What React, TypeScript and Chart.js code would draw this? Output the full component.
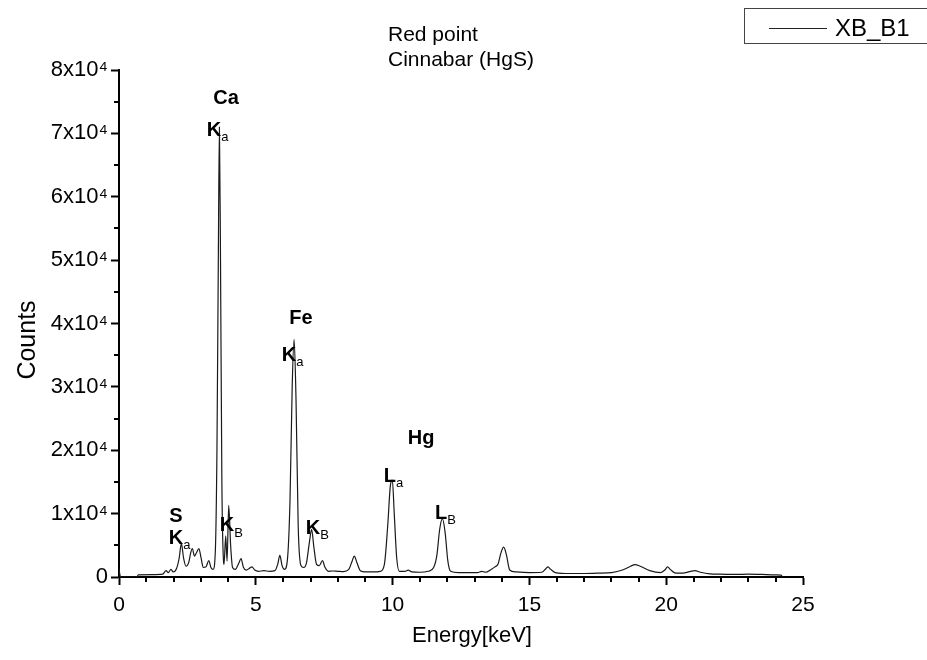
import React, { useEffect, useRef } from "react";
import { Chart, registerables } from "chart.js";

Chart.register(...registerables);

// XRF spectrum of sample XB_B1 (energy in keV, counts)
const energy = [
  0.0, 0.04, 0.1, 0.66, 0.7, 1.2, 1.6, 1.72, 1.8, 1.9, 1.98, 2.1, 2.2, 2.28, 2.36, 2.45, 2.55, 2.62,
  2.68, 2.76, 2.84, 2.92, 3.0, 3.08, 3.18, 3.28, 3.36, 3.44, 3.52, 3.58, 3.63, 3.67, 3.71, 3.76, 3.82,
  3.84, 3.9, 3.95, 4.01, 4.08, 4.15, 4.25, 4.38, 4.46, 4.55, 4.65, 4.78, 4.86, 4.96, 5.1, 5.3, 5.5, 5.7,
  5.8, 5.88, 5.96, 6.05, 6.15, 6.25, 6.33, 6.4, 6.47, 6.55, 6.65, 6.75, 6.85, 6.96, 7.04, 7.12, 7.22,
  7.32, 7.44, 7.52, 7.65, 7.8, 8.0, 8.2, 8.4, 8.52, 8.6, 8.7, 8.82, 9.0, 9.3, 9.55, 9.7, 9.82, 9.92,
  9.99, 10.06, 10.15, 10.25, 10.45, 10.57, 10.7, 11.0, 11.3, 11.5, 11.62, 11.72, 11.82, 11.92, 12.02,
  12.12, 12.4, 12.8, 13.1, 13.26, 13.4, 13.6, 13.74, 13.85, 13.96, 14.06, 14.16, 14.28, 14.5, 15.0,
  15.45, 15.6, 15.68, 15.78, 15.95, 16.5, 17.0, 17.5, 18.0, 18.4, 18.7, 18.86, 19.05, 19.4, 19.8,
  19.95, 20.05, 20.15, 20.35, 20.6, 20.9, 21.05, 21.25, 21.6, 22.0, 22.5, 23.0, 23.5, 24.0, 24.2,
  24.25,
];

const counts = [
  1300, 200, 0, 0, 350, 380, 450, 1000, 700, 1200, 800, 1300, 3000, 5300, 3000, 1700, 2300, 3800,
  4500, 3300, 3900, 4500, 3000, 1500, 1600, 2600, 1500, 1200, 4000, 20000, 50000, 71000, 50000, 15000,
  2500, 2000, 6500, 2500, 11300, 5000, 1500, 1200, 2200, 2900, 1500, 1100, 1400, 1600, 1100, 900, 1000,
  900, 1000, 2000, 3400, 1800, 1200, 2500, 12000, 30000, 37500, 28000, 8000, 1800, 1500, 2200, 5500,
  7500, 4800, 2000, 1800, 2600, 1600, 900, 950, 900, 850, 1200, 2500, 3300, 2200, 1000, 800, 800, 900,
  2000, 8000, 14500, 15300, 10000, 3000, 900, 900, 1100, 800, 750, 900, 1500, 3500, 7500, 9200, 7000,
  2500, 900, 700, 700, 700, 900, 750, 1200, 1600, 2000, 3800, 4700, 3500, 1100, 800, 700, 750, 1300,
  1600, 1200, 700, 550, 550, 600, 700, 1100, 1700, 1950, 1700, 1000, 700, 1100, 1600, 1200, 600, 600,
  900, 1000, 750, 500, 450, 400, 450, 400, 350, 300, 0,
];

// Peak labels: main text, subscript, anchor energy and anchor counts
const peakText = ["Ca", "K", "Fe", "K", "S", "K", "K", "K", "Hg", "L", "L"];
const peakSub = ["", "a", "", "a", "", "a", "B", "B", "", "a", "B"];
const peakEnergy = [3.91, 3.47, 6.65, 6.21, 2.08, 2.08, 3.95, 7.09, 11.04, 9.9, 11.77];
const peakCounts = [75500, 70500, 40800, 35000, 9600, 6150, 8050, 7600, 21900, 15800, 10100];

const titleLines = ["Red point", "Cinnabar (HgS)"];
const seriesName = "XB_B1";
const xTitle = "Energy[keV]";
const yTitle = "Counts";

const FONT = "'Liberation Sans', Arial, sans-serif";

const decorPlugin = {
  id: "decor",
  afterDraw(chart: any) {
    const { ctx, scales } = chart;
    const xs = scales.x;
    const ys = scales.y;
    ctx.save();

    // minor ticks
    ctx.strokeStyle = "#000";
    ctx.lineWidth = 2;
    ctx.beginPath();
    for (let v = 1; v < 25; v++) {
      if (v % 5 === 0) continue;
      const px = Math.round(xs.getPixelForValue(v));
      ctx.moveTo(px, ys.bottom);
      ctx.lineTo(px, ys.bottom + 5);
    }
    for (let v = 5000; v < 80000; v += 10000) {
      const py = Math.round(ys.getPixelForValue(v));
      ctx.moveTo(xs.left, py);
      ctx.lineTo(xs.left - 5, py);
    }
    ctx.stroke();

    // peak annotations
    ctx.fillStyle = "#000";
    ctx.textBaseline = "middle";
    peakText.forEach((t, i) => {
      const px = xs.getPixelForValue(peakEnergy[i]);
      const py = ys.getPixelForValue(peakCounts[i]);
      ctx.font = `bold 20px ${FONT}`;
      const w = ctx.measureText(t).width;
      ctx.textAlign = "left";
      ctx.fillText(t, px - w / 2, py);
      if (peakSub[i]) {
        ctx.font = `13px ${FONT}`;
        ctx.fillText(peakSub[i], px + w / 2, py + 7);
      }
    });

    // axis titles
    ctx.font = `22px ${FONT}`;
    ctx.textAlign = "center";
    ctx.textBaseline = "middle";
    ctx.fillText(xTitle, (xs.left + xs.right) / 2 + 11, 636);
    ctx.save();
    ctx.translate(28, 340);
    ctx.rotate(-Math.PI / 2);
    ctx.font = `25px ${FONT}`;
    ctx.fillText(yTitle, 0, 0);
    ctx.restore();

    // title block
    ctx.font = `21px ${FONT}`;
    ctx.textAlign = "left";
    ctx.textBaseline = "alphabetic";
    titleLines.forEach((line, i) => {
      ctx.fillText(line, 388, 41 + i * 25);
    });

    // legend box
    ctx.strokeStyle = "#444";
    ctx.lineWidth = 1;
    ctx.strokeRect(744.5, 8.5, 200, 35);
    ctx.strokeStyle = "#222";
    ctx.beginPath();
    ctx.moveTo(769, 28.5);
    ctx.lineTo(827, 28.5);
    ctx.stroke();
    ctx.font = `24px ${FONT}`;
    ctx.fillText(seriesName, 835, 36);

    ctx.restore();
  },
};

export default function App() {
  const ref = useRef<HTMLCanvasElement>(null);

  useEffect(() => {
    if (!ref.current) return;
    const chart = new Chart(ref.current, {
      type: "line",
      data: {
        datasets: [
          {
            label: seriesName,
            data: energy.map((e, i) => ({ x: e, y: counts[i] })),
            borderColor: "#1a1a1a",
            borderWidth: 1.2,
            pointRadius: 0,
            tension: 0,
            cubicInterpolationMode: "monotone",
            fill: false,
          },
        ],
      },
      plugins: [decorPlugin],
      options: {
        animation: false,
        responsive: false,
        devicePixelRatio: 1,
        layout: { padding: { top: 70, right: 124, left: 0, bottom: 0 } },
        plugins: {
          legend: { display: false },
          tooltip: { enabled: false },
          title: { display: false },
        },
        scales: {
          x: {
            type: "linear",
            min: 0,
            max: 25,
            afterFit: (s: any) => {
              s.height = 83;
            },
            ticks: {
              stepSize: 5,
              color: "#000",
              font: { family: FONT, size: 21 },
              padding: 8,
              maxRotation: 0,
            },
            grid: {
              drawOnChartArea: false,
              drawTicks: true,
              tickLength: 8,
              tickWidth: 2,
              tickColor: "#000",
            },
            border: { display: true, color: "#000", width: 2 },
          },
          y: {
            type: "linear",
            min: 0,
            max: 80000,
            afterFit: (s: any) => {
              s.width = 119;
            },
            ticks: {
              stepSize: 10000,
              color: "#000",
              font: { family: FONT, size: 22 },
              padding: 3,
              callback: (v: any) => (v === 0 ? "0" : `${v / 10000}x10\u2074`),
            },
            grid: {
              drawOnChartArea: false,
              drawTicks: true,
              tickLength: 8,
              tickWidth: 2,
              tickColor: "#000",
            },
            border: { display: true, color: "#000", width: 2 },
          },
        },
      },
    });
    return () => chart.destroy();
  }, []);

  return (
    <div style={{ position: "fixed", left: 0, top: 0, width: 927, height: 660, background: "#fff" }}>
      <canvas ref={ref} width={927} height={660} style={{ width: 927, height: 660 }} />
    </div>
  );
}
